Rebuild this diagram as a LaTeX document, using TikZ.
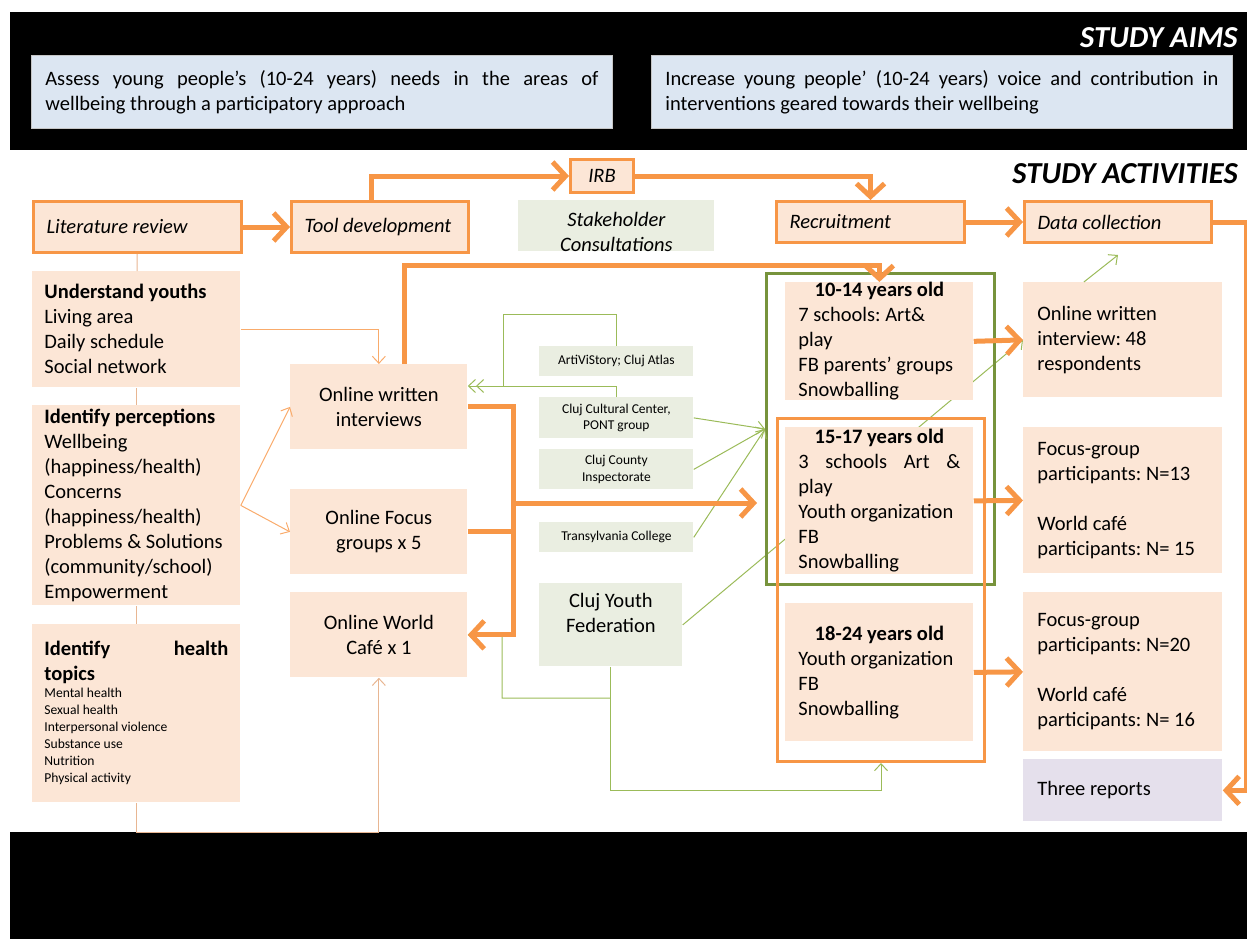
\documentclass[tikz,border=0pt]{standalone}
\usepackage{fontspec}
\setmainfont{Carlito}
\usetikzlibrary{arrows.meta}

\definecolor{peach}{RGB}{252,230,214}
\definecolor{orangeA}{RGB}{247,150,70}
\definecolor{tanline}{RGB}{232,182,146}
\definecolor{greenA}{RGB}{155,187,89}
\definecolor{greenB}{RGB}{119,147,60}
\definecolor{stakefill}{RGB}{234,238,225}
\definecolor{aimfill}{RGB}{220,230,242}
\definecolor{lavender}{RGB}{229,224,236}

\pgfdeclarelayer{back}
\pgfsetlayers{back,main}

\frenchspacing
\newcommand{\bodyfont}{\fontsize{20.5}{25}\selectfont}
\newcommand{\smallfont}{\fontsize{13.5}{16.5}\selectfont}
\newcommand{\listfont}{\fontsize{13.6}{17}\selectfont}
\newcommand{\titlefont}{\fontsize{30.5}{36}\selectfont\bfseries\itshape}
\newcommand{\fullline}[1]{\leavevmode\hbox to \linewidth{\spaceskip=\fontdimen2\font plus 1fil\xspaceskip=\spaceskip\relax #1}}
\newcommand{\midline}[1]{\makebox[\linewidth]{#1}}

\tikzset{every picture/.style={line width=0.75pt}}
\tikzset{
  pbox/.style={anchor=north west, fill=peach, inner xsep=13pt, inner ysep=0pt, align=flush left, font=\bodyfont},
  midbox/.style={pbox, align=center, minimum width=177pt, minimum height=85pt},
  stepbox/.style={pbox, draw=orangeA, line width=3pt, font=\bodyfont\itshape},
  sbox/.style={anchor=north west, fill=stakefill, inner sep=0pt, align=center, font=\smallfont, minimum width=154pt},
  aimbox/.style={anchor=north west, fill=aimfill, draw=gray!45, inner xsep=14pt, text width=553pt, minimum height=73pt, align=flush left, font=\bodyfont},
  frame/.style={anchor=north west, inner sep=0pt, line width=3pt},
  bigarrow/.style={draw=orangeA, line width=5pt, -{Straight Barb[length=13pt,width=28pt]}},
  bigline/.style={draw=orangeA, line width=5pt},
  thinarrow/.style={draw=orangeA!80, line width=1pt, -{Straight Barb[length=7pt,width=13pt]}},
  linkline/.style={draw=tanline, line width=1pt},
  garrow/.style={draw=greenA, line width=1pt, -{Straight Barb[length=7pt,width=13pt]}},
  gline/.style={draw=greenA, line width=1pt}
}

\begin{document}
\begin{tikzpicture}[x=1pt,y=1pt,yscale=-1,xscale=1]
\useasboundingbox (0,0) rectangle (1247,939);

%Shape: black bands
\fill [black] (10,12) rectangle (1247,150);
\fill [black] (10,832) rectangle (1247,939);

% Titles
\node [anchor=base east, inner sep=0pt, text=white, font=\titlefont] (aimtitle) at (1238,48) {STUDY AIMS};
\node [anchor=base east, inner sep=0pt, font=\titlefont] (acttitle) at (1238,183) {STUDY ACTIVITIES};

% Aims
\node [aimbox] (aimA) at (31,55) {\fullline{Assess young people’s (10-24 years) needs in the areas of}\\wellbeing through a participatory approach};
\node [aimbox] (aimB) at (651,55) {\fullline{Increase young people’ (10-24 years) voice and contribution in}\\interventions geared towards their wellbeing};

% Steps
\node [stepbox, text width=182pt, minimum height=51pt] (litrev) at (32,200) {Literature review};
\node [stepbox, text width=151pt, minimum height=51pt] (tooldev) at (290,200) {Tool development};
\node [stepbox, align=center, inner xsep=0pt, minimum width=63pt, minimum height=33pt] (irb) at (569,158) {IRB};
\node [sbox, font=\bodyfont\itshape, inner ysep=-3pt, minimum width=196pt, minimum height=51pt] (stake) at (518,200) {\rule{0pt}{27pt}Stakeholder\\Consultations};
\node [stepbox, text width=162pt, minimum height=41pt] (recruit) at (775,200) {Recruitment};
\node [stepbox, text width=161pt, minimum height=41pt] (datacol) at (1023,200) {Data collection};

% Literature topics
\node [pbox, inner xsep=12pt, text width=184pt, minimum height=116pt] (youths) at (32,271) {\textbf{Understand youths}\\Living area\\Daily schedule\\Social network};
\node [pbox, inner xsep=12pt, text width=184pt, minimum height=200pt] (percep) at (32,405) {\textbf{Identify perceptions}\\Wellbeing\\(happiness/health)\\Concerns\\(happiness/health)\\Problems \& Solutions\\(community/school)\\Empowerment};
\node [pbox, inner xsep=12pt, text width=184pt, minimum height=178pt] (health) at (32,624) {\textbf{\fullline{Identify health}\\topics}\par{\listfont Mental health\\Sexual health\\Interpersonal violence\\Substance use\\Nutrition\\Physical activity\par}};

% Tools
\node [midbox] (written) at (290,364) {Online written\\interviews};
\node [midbox] (focus) at (290,489) {Online Focus\\groups x 5};
\node [midbox] (cafe) at (290,592) {Online World\\Café x 1};

% Stakeholders
\node [sbox, minimum height=30pt] (arti) at (539,346) {ArtiViStory; Cluj Atlas};
\node [sbox, minimum height=41pt] (cultural) at (539,397) {Cluj Cultural Center,\\PONT group};
\node [sbox, minimum height=40pt] (county) at (539,449) {Cluj County\\Inspectorate};
\node [sbox, minimum height=30pt] (transy) at (539,522) {Transylvania College};
\node [sbox, font=\bodyfont, minimum width=143pt, minimum height=83pt] (youthfed) at (539,583) {Cluj Youth\\Federation\rule[-23pt]{0pt}{0pt}};

% Age groups
\node [pbox, text width=162pt, minimum height=116pt] (age1014) at (785,282) {\midline{\textbf{10-14 years old}}\\7 schools: Art\&\\play\\FB parents’ groups\\Snowballing};
\node [pbox, text width=162pt, minimum height=147pt] (age1517) at (785,427) {\midline{\textbf{15-17 years old}}\\\fullline{3 schools Art \&}\\play\\Youth organization\\FB\\Snowballing};
\node [pbox, text width=162pt, minimum height=138pt] (age1824) at (785,603) {\midline{\textbf{18-24 years old}}\\Youth organization\\FB\\Snowballing};

% Results
\node [pbox, inner xsep=14pt, text width=171pt, minimum height=115pt] (res48) at (1023,282) {Online written\\interview: 48\\respondents};
\node [pbox, inner xsep=14pt, text width=171pt, minimum height=146pt] (res13) at (1023,427) {Focus-group\\participants: N=13\\[25pt]World café\\participants: N= 15};
\node [pbox, inner xsep=14pt, text width=171pt, minimum height=159pt] (res20) at (1023,592) {Focus-group\\participants: N=20\\[25pt]World café\\participants: N= 16};
\node [pbox, fill=lavender, inner xsep=14pt, text width=171pt, minimum height=62pt] (reports) at (1023,759) {Three reports};

% Frames
\node [frame, draw=greenB, minimum width=228pt, minimum height=311pt] (gfr) at (765,272) {};
\node [frame, draw=orangeA, minimum width=207pt, minimum height=343pt] (ofr) at (776,417) {};

\coordinate (hub) at (513,503);
\coordinate (bigtip) at (757,503);
\coordinate (gjoin) at (503,386);
\coordinate (gtop) at (503,314);
\coordinate (fedsplit) at (610.5,698);
\coordinate (cafeturn) at (502,634.5);

% behind the boxes
\begin{pgfonlayer}{back}
\draw [garrow] (youthfed.east) -- (res48.west);
\end{pgfonlayer}

% Links
\draw [linkline] (litrev) -- (youths);
\draw [linkline] (youths) -- (percep);
\draw [linkline] (percep) -- (health);
\draw [thinarrow, draw=tanline] (health.south) -- ++(0,30) -| (cafe.south);
\draw [thinarrow] (youths.east) -| (written.north);
\draw [thinarrow] (percep.east) -- (written.west);
\draw [thinarrow] (percep.east) -- (focus.west);

\draw [gline] (arti.north) |- (gtop) -- (gjoin);
\draw [gline] (cultural.north) |- (gjoin);
\draw [draw=greenA, line width=1pt, -{Straight Barb[length=7pt,width=13pt] Straight Barb[length=7pt,width=13pt]}] (gjoin) -- (gjoin -| written.east);
\draw [garrow] (cultural.east) -- (gfr.west);
\draw [garrow] (county.east) -- (gfr.west);
\draw [garrow] (transy.east) -- (gfr.west);
\draw [garrow] (youthfed.south) -- ++(0,124) -| (ofr.south);
\draw [garrow] (fedsplit) -| (cafeturn) -- (cafe.east);
\draw [garrow] ([xshift=-39pt]res48.north) -- ([yshift=11pt]datacol.south);

% Main flow
\draw [bigarrow] (litrev) -- (tooldev);
\draw [bigarrow] ([xshift=-9pt]tooldev.north) |- (irb.west);
\draw [bigarrow] (irb.east) -| (recruit.north);
\draw [bigarrow] (recruit) -- (datacol);
\draw [bigarrow] (datacol.east) -- ++(33,0) |- (reports.east);
\draw [bigarrow] ([xshift=26pt]written.north) -- ++(0,-99) -| (age1014.north);
\draw [bigarrow] (written.east) -- ++(46,0) |- (cafe.east);
\draw [bigline] (focus.east) -- (focus.east -| hub);
\draw [bigarrow] (hub) -- (bigtip);
\draw [bigarrow] (age1014.east) -- (res48.west);
\draw [bigarrow] (age1517.east) -- (res13.west);
\draw [bigarrow] (age1824.east) -- (res20.west);

\end{tikzpicture}
\end{document}
